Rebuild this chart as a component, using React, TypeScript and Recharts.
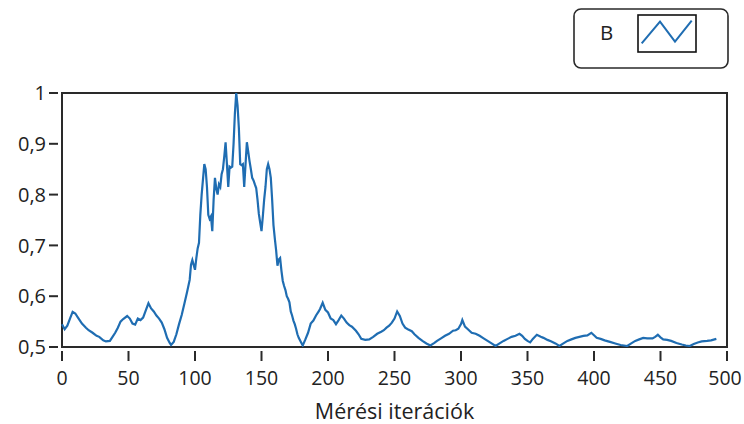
import React from 'react';
import { LineChart, Line, XAxis, YAxis, ReferenceArea, Legend } from 'recharts';

const iterations = [
  0, 2, 4, 6, 8, 10, 12, 15, 18, 20, 23, 26, 28, 31, 33, 36, 38, 40, 42, 44, 46, 49, 51, 53, 55, 57, 59, 61, 63, 65,
  67, 69, 71, 73, 75, 77, 79, 81, 82, 84, 86, 88, 90, 92, 94, 96, 97, 98, 100, 101, 102, 103, 104, 105, 107, 108, 109, 110, 111, 112,
  113, 114, 115, 116, 117, 118, 119, 120, 121, 122, 123, 124, 125, 126, 127, 128, 129, 130, 131, 132, 133, 134, 135, 136, 137, 138, 139, 140, 141, 142,
  143, 144, 145, 146, 147, 148, 149, 150, 151, 152, 153, 154, 155, 156, 157, 158, 159, 160, 161, 162, 163, 164, 165, 166, 167, 168, 169, 170, 171, 172,
  173, 174, 175, 176, 177, 178, 180, 181, 183, 185, 187, 189, 191, 193, 194, 196, 198, 200, 202, 204, 206, 208, 210, 212, 214, 216, 218, 221, 223, 225,
  228, 231, 234, 237, 240, 242, 244, 246, 248, 250, 252, 254, 256, 258, 260, 263, 265, 268, 271, 274, 277, 280, 282, 285, 288, 291, 294, 296, 298, 300,
  301, 303, 306, 308, 311, 314, 317, 320, 323, 326, 329, 332, 335, 338, 341, 344, 346, 348, 350, 352, 354, 357, 360, 362, 365, 368, 371, 374, 377, 380,
  383, 386, 389, 392, 395, 398, 400, 402, 405, 408, 412, 416, 420, 425, 428, 431, 434, 437, 440, 444, 446, 448, 450, 452, 455, 458, 462, 466, 469, 472,
  475, 478, 481, 485, 488, 492,
];

const valuesB = [
  0.545, 0.535, 0.542, 0.556, 0.569, 0.566, 0.558, 0.546, 0.538, 0.533, 0.528, 0.522, 0.52, 0.513, 0.511, 0.512, 0.52, 0.528, 0.538, 0.55, 0.555, 0.561, 0.556, 0.546, 0.544, 0.556, 0.553, 0.558, 0.572, 0.586,
  0.576, 0.57, 0.562, 0.556, 0.548, 0.535, 0.518, 0.508, 0.504, 0.51, 0.525, 0.545, 0.563, 0.585, 0.608, 0.632, 0.662, 0.671, 0.652, 0.675, 0.694, 0.705, 0.76, 0.8, 0.86, 0.85, 0.815, 0.76, 0.752, 0.757,
  0.728, 0.79, 0.833, 0.812, 0.8, 0.82, 0.815, 0.84, 0.85, 0.875, 0.903, 0.86, 0.815, 0.855, 0.853, 0.855, 0.9, 0.96, 1.0, 0.975, 0.93, 0.86, 0.858, 0.86, 0.815, 0.86, 0.903, 0.885, 0.866, 0.85,
  0.833, 0.828, 0.82, 0.813, 0.79, 0.762, 0.745, 0.728, 0.757, 0.79, 0.815, 0.85, 0.86, 0.85, 0.833, 0.79, 0.74, 0.714, 0.69, 0.66, 0.672, 0.675, 0.65, 0.63, 0.62, 0.612, 0.6, 0.595, 0.588, 0.57,
  0.562, 0.552, 0.545, 0.536, 0.525, 0.518, 0.508, 0.503, 0.515, 0.528, 0.546, 0.552, 0.562, 0.57, 0.575, 0.587, 0.573, 0.568, 0.556, 0.553, 0.545, 0.553, 0.562, 0.556, 0.548, 0.543, 0.54, 0.532, 0.525, 0.516,
  0.514, 0.515, 0.52, 0.526, 0.53, 0.533, 0.538, 0.542, 0.548, 0.556, 0.57, 0.561, 0.546, 0.538, 0.535, 0.531, 0.525, 0.518, 0.512, 0.507, 0.503, 0.508, 0.512, 0.517, 0.522, 0.526, 0.532, 0.533, 0.536, 0.545,
  0.553, 0.54, 0.533, 0.528, 0.526, 0.522, 0.517, 0.512, 0.507, 0.502, 0.507, 0.512, 0.516, 0.52, 0.522, 0.526, 0.522, 0.516, 0.512, 0.509, 0.516, 0.524, 0.52, 0.518, 0.514, 0.511, 0.507, 0.502, 0.507, 0.512,
  0.515, 0.518, 0.52, 0.522, 0.523, 0.528, 0.523, 0.518, 0.516, 0.513, 0.51, 0.507, 0.504, 0.502, 0.507, 0.512, 0.515, 0.518, 0.517, 0.517, 0.52, 0.524, 0.519, 0.515, 0.514, 0.512, 0.508, 0.505, 0.503, 0.502,
  0.506, 0.509, 0.511, 0.512, 0.513, 0.516,
];

const xTicks = [0, 50, 100, 150, 200, 250, 300, 350, 400, 450, 500];
const yTicks = [0.5, 0.6, 0.7, 0.8, 0.9, 1];
const seriesName = 'B';
const xTitle = 'Mérési iterációk';

const data = iterations.map((x, i) => ({ x, B: valuesB[i] }));

const FONT = '"Open Sans", "Noto Sans", sans-serif';
const TEXT = '#222222';
const LINE = '#1f6db2';
const FRAME = '#2a2a2a';

const XTick = (props: any) => {
  const { x, y, payload } = props;
  const isLast = payload.value === xTicks[xTicks.length - 1];
  return (
    <g>
      <line x1={x} x2={x} y1={y + 4} y2={y + 14} stroke={FRAME} strokeWidth={2} />
      <text x={x} dx={isLast ? -2 : 0} y={y + 38} textAnchor="middle" fontFamily={FONT} fontSize={19.5} fill={TEXT}>
        {String(payload.value)}
      </text>
    </g>
  );
};

const YTick = (props: any) => {
  const { x, y, payload } = props;
  return (
    <g>
      <line x1={x - 13} x2={x - 4} y1={y} y2={y} stroke={FRAME} strokeWidth={2} />
      <text x={x - 16} y={y} dy="0.36em" textAnchor="end" fontFamily={FONT} fontSize={20} fill={TEXT}>
        {String(payload.value).replace('.', ',')}
      </text>
    </g>
  );
};

const LegendBox = () => (
  <svg width={156} height={61} style={{ display: 'block' }}>
    <rect x={1} y={1} width={154} height={59} rx={7} ry={7} fill="#fff" stroke={FRAME} strokeWidth={1.6} />
    <text x={27} y={32} fontFamily={FONT} fontSize={20.5} fill={TEXT}>{seriesName}</text>
    <rect x={65} y={7} width={58} height={37} fill="#fff" stroke="#111" strokeWidth={1.6} />
    <polyline points="68.7,35.3 87,13.7 102,33.7 118.7,12.7" fill="none" stroke={LINE} strokeWidth={2} />
  </svg>
);

export default function App() {
  return (
    <div style={{ position: 'absolute', left: 0, top: 0, width: 744, height: 424, background: '#fff' }}>
      <LineChart width={744} height={424} data={data} margin={{ top: 93, right: 17, left: 0, bottom: 0 }}>
        <XAxis
          dataKey="x"
          type="number"
          domain={[0, 500]}
          ticks={xTicks}
          interval={0}
          height={77}
          axisLine={false}
          tickLine={false}
          tickSize={0}
          tickMargin={0}
          tick={<XTick />}
          label={{ value: xTitle, position: 'insideBottom', offset: 5, fontFamily: FONT, fontSize: 21.5, fill: TEXT }}
        />
        <YAxis
          type="number"
          domain={[0.5, 1]}
          ticks={yTicks}
          interval={0}
          width={62}
          axisLine={false}
          tickLine={false}
          tickSize={0}
          tickMargin={0}
          tick={<YTick />}
          allowDataOverflow
        />
        <ReferenceArea x1={0} x2={500} y1={0.5} y2={1} fill="none" stroke={FRAME} strokeWidth={2} ifOverflow="visible" />
        <Line
          type="linear"
          dataKey="B"
          name={seriesName}
          stroke={LINE}
          strokeWidth={2.2}
          dot={false}
          isAnimationActive={false}
        />
        <Legend
          layout="horizontal"
          verticalAlign="middle"
          align="center"
          content={<LegendBox />}
          wrapperStyle={{ position: 'absolute', left: 573, top: 8, width: 156, height: 61 }}
        />
      </LineChart>
    </div>
  );
}
